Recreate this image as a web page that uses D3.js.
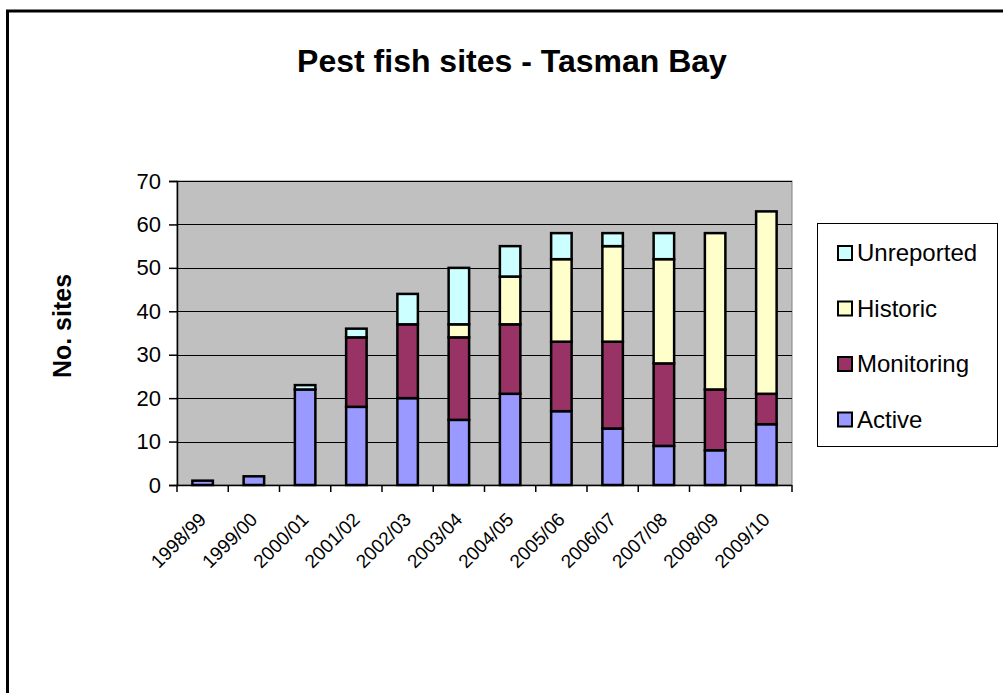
<!DOCTYPE html>
<html>
<head>
<meta charset="utf-8">
<script src="https://cdn.jsdelivr.net/npm/d3@7"></script>
<style>
  html, body { margin: 0; padding: 0; background: #fff; }
  svg { display: block; font-family: "Liberation Sans", Arial, sans-serif; }
</style>
</head>
<body>
<svg id="chart" width="1003" height="693"></svg>
<script>
// Pest fish sites by season, split by site status
const seasons = ["1998/99","1999/00","2000/01","2001/02","2002/03","2003/04",
                 "2004/05","2005/06","2006/07","2007/08","2008/09","2009/10"];
const active      = [1, 2, 22, 18, 20, 15, 21, 17, 13, 9, 8, 14];
const monitoring  = [0, 0, 0, 16, 17, 19, 16, 16, 20, 19, 14, 7];
const historic    = [0, 0, 0, 0, 0, 3, 11, 19, 22, 24, 36, 42];
const unreported  = [0, 0, 1, 2, 7, 13, 7, 6, 3, 6, 0, 0];
const seriesNames = ["Active", "Monitoring", "Historic", "Unreported"];
const seriesColors = ["#9999FF", "#993366", "#FFFFCC", "#CCFFFF"];
const yTicks = [0, 10, 20, 30, 40, 50, 60, 70];

const rows = seasons.map((s, i) => ({
  season: s,
  Active: active[i],
  Monitoring: monitoring[i],
  Historic: historic[i],
  Unreported: unreported[i]
}));

const svg = d3.select("#chart");

// outer chart frame (runs past the right and bottom edges)
svg.append("rect")
  .attr("x", 7.5).attr("y", 11)
  .attr("width", 1100).attr("height", 800)
  .attr("fill", "#fff")
  .attr("stroke", "#000").attr("stroke-width", 3);

const plot = { left: 177, right: 792, top: 181, bottom: 485 };

const x = d3.scaleBand()
  .domain(seasons)
  .range([plot.left, plot.right])
  .paddingInner(0.6)
  .paddingOuter(0.3);

const y = d3.scaleLinear()
  .domain([0, 70])
  .range([plot.bottom, plot.top]);

// plot background
svg.append("rect")
  .attr("x", plot.left).attr("y", plot.top)
  .attr("width", plot.right - plot.left)
  .attr("height", plot.bottom - plot.top)
  .attr("fill", "#C0C0C0")
  .attr("stroke", "#808080").attr("stroke-width", 1);

// horizontal gridlines
svg.append("g")
  .selectAll("line")
  .data(yTicks.filter(d => d > 0))
  .join("line")
  .attr("x1", plot.left).attr("x2", plot.right)
  .attr("y1", d => Math.round(y(d)) + 0.5)
  .attr("y2", d => Math.round(y(d)) + 0.5)
  .attr("stroke", "#000").attr("stroke-width", 1);

// stacked bars
const stack = d3.stack().keys(seriesNames);
const layers = stack(rows);

svg.append("g")
  .selectAll("g")
  .data(layers)
  .join("g")
  .attr("fill", (d, i) => seriesColors[i])
  .selectAll("rect")
  .data(d => d.filter(v => v[1] - v[0] > 0))
  .join("rect")
  .attr("x", d => x(d.data.season))
  .attr("width", x.bandwidth())
  .attr("y", d => y(d[1]))
  .attr("height", d => y(d[0]) - y(d[1]))
  .attr("stroke", "#000")
  .attr("stroke-width", 2.5);

// y axis
const yAxis = d3.axisLeft(y)
  .tickValues(yTicks)
  .tickSize(8)
  .tickPadding(8);
const gy = svg.append("g")
  .attr("transform", `translate(${plot.left},0)`)
  .call(yAxis);
gy.select(".domain").attr("stroke", "#000").attr("stroke-width", 1.5);
gy.selectAll(".tick line").attr("stroke", "#000").attr("stroke-width", 1.5);
gy.selectAll(".tick text")
  .attr("font-size", 22)
  .attr("font-family", "Liberation Sans, Arial, sans-serif")
  .attr("fill", "#000");

// x axis: ticks sit on category boundaries
const boundaries = d3.range(seasons.length + 1).map(i => plot.left + i * (plot.right - plot.left) / seasons.length);
const gx = svg.append("g");
gx.append("line")
  .attr("x1", plot.left).attr("x2", plot.right)
  .attr("y1", plot.bottom + 0.5).attr("y2", plot.bottom + 0.5)
  .attr("stroke", "#000").attr("stroke-width", 1.5);
gx.selectAll("line.tk")
  .data(boundaries)
  .join("line")
  .attr("class", "tk")
  .attr("x1", d => d).attr("x2", d => d)
  .attr("y1", plot.bottom).attr("y2", plot.bottom + 7)
  .attr("stroke", "#000").attr("stroke-width", 1.5);
gx.selectAll("text")
  .data(seasons)
  .join("text")
  .attr("transform", d => `translate(${x(d) + x.bandwidth() / 2},${plot.bottom + 31}) rotate(-45)`)
  .attr("text-anchor", "end")
  .attr("dy", "0.35em")
  .attr("font-size", 19)
  .attr("fill", "#000")
  .text(d => d);

// axis title
svg.append("text")
  .attr("transform", "translate(62,326) rotate(-90)")
  .attr("text-anchor", "middle")
  .attr("dy", "0.35em")
  .attr("font-size", 25)
  .attr("font-weight", "bold")
  .text("No. sites");

// chart title
svg.append("text")
  .attr("x", 512).attr("y", 72)
  .attr("text-anchor", "middle")
  .attr("font-size", 32)
  .attr("font-weight", "bold")
  .text("Pest fish sites - Tasman Bay");

// legend (top entry is the top of the stack)
const legend = svg.append("g");
legend.append("rect")
  .attr("x", 817.5).attr("y", 223.5)
  .attr("width", 180).attr("height", 223)
  .attr("fill", "#fff")
  .attr("stroke", "#000").attr("stroke-width", 1);

const legendItems = seriesNames.map((n, i) => ({ name: n, color: seriesColors[i] })).reverse();
const li = legend.selectAll("g")
  .data(legendItems)
  .join("g")
  .attr("transform", (d, i) => `translate(838,${253 + i * 55.5})`);
li.append("rect")
  .attr("x", 0).attr("y", -7)
  .attr("width", 14).attr("height", 14)
  .attr("fill", d => d.color)
  .attr("stroke", "#000").attr("stroke-width", 2);
li.append("text")
  .attr("x", 19)
  .attr("y", 8)
  .attr("font-size", 24)
  .attr("fill", "#000")
  .text(d => d.name);
</script>
</body>
</html>
